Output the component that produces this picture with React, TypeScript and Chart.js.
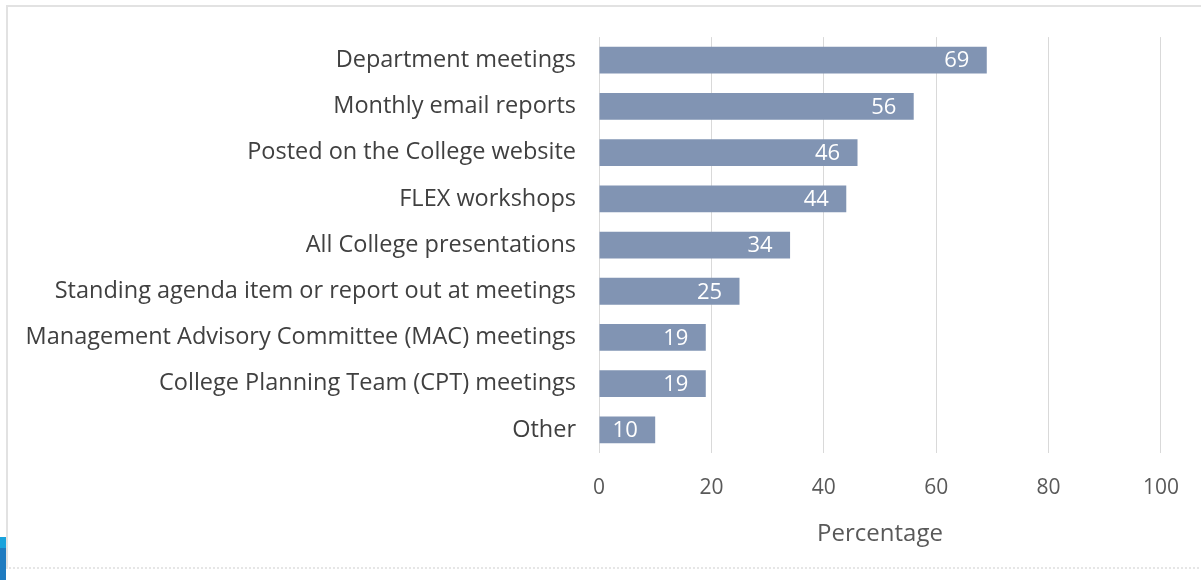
import React, { useEffect, useRef } from "react";
import { Chart, registerables } from "chart.js";

Chart.register(...registerables);

const categories = [
  "Department meetings",
  "Monthly email reports",
  "Posted on the College website",
  "FLEX workshops",
  "All College presentations",
  "Standing agenda item or report out at meetings",
  "Management Advisory Committee (MAC) meetings",
  "College Planning Team (CPT) meetings",
  "Other",
];
const values = [69, 56, 46, 44, 34, 25, 19, 19, 10];
const xTicks = [0, 20, 40, 60, 80, 100];
const xTitle = "Percentage";

const FONT = "'Open Sans', 'Noto Sans', sans-serif";

const barLabels = {
  id: "barLabels",
  afterDatasetsDraw(chart: any) {
    const ctx = chart.ctx;
    const meta = chart.getDatasetMeta(0);
    ctx.save();
    ctx.fillStyle = "#ffffff";
    ctx.font = `22px ${FONT}`;
    ctx.textAlign = "center";
    ctx.textBaseline = "middle";
    meta.data.forEach((bar: any, i: number) => {
      ctx.fillText(String(values[i]), bar.x - 30, bar.y + 1);
    });
    ctx.restore();
  },
};

export default function App() {
  const ref = useRef<HTMLCanvasElement>(null);
  useEffect(() => {
    if (!ref.current) return;
    const chart = new Chart(ref.current, {
      type: "bar",
      data: {
        labels: categories,
        datasets: [
          {
            data: values,
            backgroundColor: "#8194b3",
            borderWidth: 0,
            categoryPercentage: 0.58,
            barPercentage: 1,
          },
        ],
      },
      options: {
        indexAxis: "y",
        responsive: false,
        animation: false,
        layout: { padding: { top: 36, right: 39, left: 0, bottom: 0 } },
        plugins: { legend: { display: false }, tooltip: { enabled: false } },
        scales: {
          x: {
            min: 0,
            max: 100,
            afterBuildTicks: (scale: any) => {
              scale.ticks = xTicks.map((v) => ({ value: v }));
            },
            afterFit: (scale: any) => {
              scale.height = 127;
            },
            grid: { color: "#d9d9d9", drawTicks: false, lineWidth: 1 },
            border: { display: false },
            ticks: {
              color: "#595959",
              font: { family: FONT, size: 21 },
              padding: 22,
            },
            title: {
              display: true,
              text: xTitle,
              color: "#595959",
              font: { family: FONT, size: 24 },
              padding: { top: 0, bottom: 31 },
            },
          },
          y: {
            afterFit: (scale: any) => {
              scale.width = 599;
            },
            grid: { display: false, drawTicks: false },
            border: { display: false },
            ticks: {
              color: "#404040",
              font: { family: FONT, size: 23.5 },
              padding: 23,
            },
          },
        },
      },
      plugins: [barLabels],
    });
    return () => chart.destroy();
  }, []);
  return (
    <div style={{ position: "fixed", left: 0, top: 0, width: 1201, height: 580, background: "#fff", overflow: "hidden" }}>
      <div
        style={{
          position: "absolute",
          left: 6,
          top: 5,
          width: 1220,
          height: 564,
          borderTop: "2px solid #e2e2e2",
          borderLeft: "2px solid #e2e2e2",
          borderBottom: "2px dotted #e6e6e6",
          boxSizing: "border-box",
        }}
      />
      <div style={{ position: "absolute", left: 0, top: 537, width: 6, height: 11, background: "#1aa3dc" }} />
      <div style={{ position: "absolute", left: 0, top: 548, width: 6, height: 32, background: "#1f7bc0" }} />
      <canvas ref={ref} width={1201} height={580} style={{ position: "absolute", left: 0, top: 0, width: 1201, height: 580 }} />
    </div>
  );
}
